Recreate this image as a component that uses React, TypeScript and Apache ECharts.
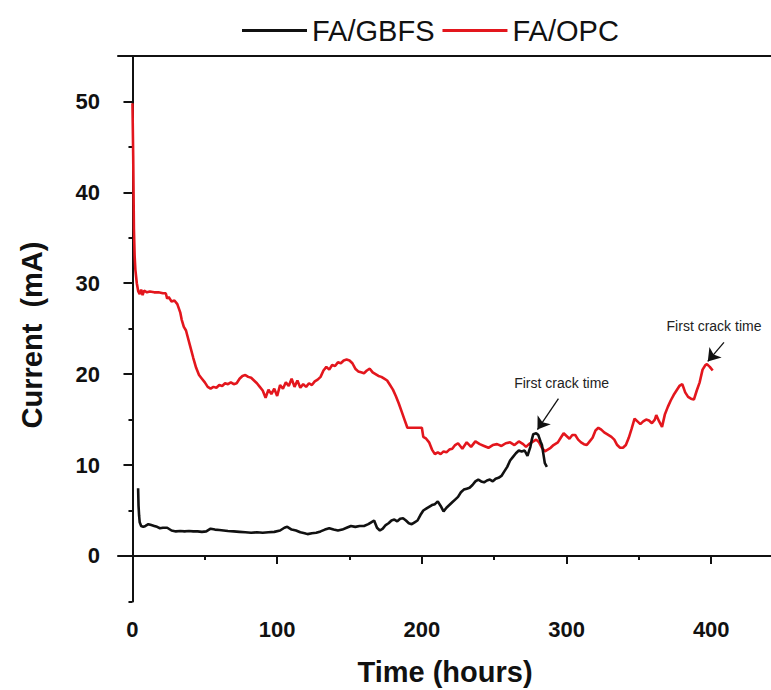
import React, { useEffect, useRef } from "react";
import * as echarts from "echarts";

// ---- Data ----
const opcTime = [0, 0.5, 1, 1.5, 2, 3, 4, 5, 6, 7, 8, 10, 12, 15, 18, 21, 23, 24, 25, 27, 29, 31, 33, 34, 35.5, 37, 38, 40, 42, 44, 46, 48, 50, 52, 54, 56, 58, 60, 62, 64, 66, 68, 70, 72, 74, 76, 78, 80, 82, 84, 86, 88, 90, 92, 94, 96, 98, 100, 102, 104, 106, 108, 110, 112, 114, 116, 118, 120, 122, 124, 126, 128, 130, 132, 134, 136, 138, 140, 142, 144, 146, 148, 150, 152, 154, 156, 158, 160, 162, 164, 166, 168, 170, 172, 174, 176, 178, 180, 182, 184, 186, 188, 190, 200, 201, 203, 205, 207, 209, 211, 213, 215, 217, 219, 221, 223, 225, 228, 231, 234, 237, 240, 243, 246, 249, 252, 255, 258, 261, 264, 267, 270, 272, 274, 277, 279, 281, 283, 285, 287, 289, 291, 294, 296, 298, 300, 302, 304, 306, 308, 310, 312, 314, 316, 318, 320, 322, 324, 326, 328, 331, 333, 335, 337, 339, 341, 343, 345, 347, 349, 351, 353, 355, 357, 359, 361, 362, 364, 366, 368, 370, 372, 374, 376, 378, 380, 382, 384, 386, 388, 390, 392, 394, 396, 397, 399, 401];
const opcCurrent = [49.8, 44, 36, 33, 31.5, 30, 29.1, 28.8, 29.3, 28.7, 29.2, 29.0, 29.1, 29.0, 29.0, 28.9, 28.9, 28.3, 28.5, 28.0, 28.1, 27.7, 26.8, 26.0, 25.2, 24.8, 24.2, 23.0, 21.8, 20.7, 19.9, 19.5, 19.1, 18.6, 18.4, 18.6, 18.5, 18.8, 18.7, 19.0, 18.9, 19.1, 18.9, 19.0, 19.5, 19.8, 19.9, 19.7, 19.6, 19.3, 19.0, 18.6, 18.2, 17.4, 18.3, 17.8, 18.4, 17.6, 18.8, 18.4, 19.1, 18.7, 19.5, 18.6, 19.3, 18.5, 18.9, 18.6, 19.0, 18.8, 19.2, 19.4, 19.7, 20.4, 20.8, 20.5, 21.0, 20.9, 21.3, 21.2, 21.5, 21.6, 21.5, 21.2, 20.6, 20.3, 20.2, 20.1, 20.4, 20.6, 20.2, 20.0, 19.8, 19.7, 19.5, 19.3, 18.8, 18.3, 17.6, 16.8, 15.9, 15.0, 14.1, 14.1, 13.1, 12.9, 12.5, 11.7, 11.2, 11.4, 11.2, 11.5, 11.4, 11.7, 11.8, 12.2, 12.4, 11.8, 12.5, 12.0, 12.6, 12.3, 12.1, 11.9, 12.2, 12.3, 12.1, 12.4, 12.5, 12.2, 12.6, 12.3, 12.0, 12.3, 12.6, 12.8, 12.5, 11.9, 11.5, 11.7, 11.9, 12.2, 12.5, 13.0, 13.5, 13.2, 12.9, 13.3, 13.3, 12.8, 12.5, 12.3, 12.2, 12.6, 13.0, 13.8, 14.1, 13.9, 13.6, 13.4, 13.1, 12.8, 12.2, 11.9, 11.9, 12.2, 13.0, 14.0, 15.1, 14.8, 14.5, 14.8, 15.0, 14.9, 14.6, 15.0, 15.5, 14.8, 14.2, 15.6, 16.4, 17.1, 17.7, 18.2, 18.7, 18.9, 18.0, 17.5, 17.3, 17.2, 18.2, 19.1, 20.5, 21.0, 21.1, 20.8, 20.4];

const gbfsTime = [3.9, 4.2, 4.6, 5, 6, 7.5, 9, 11, 13, 15, 17, 19, 21, 24, 27, 30, 33, 36, 39, 42, 45, 48, 51, 54, 57, 60, 63, 66, 70, 74, 78, 82, 86, 90, 94, 98, 102, 105, 107, 110, 113, 116, 119, 121, 124, 127, 130, 133, 136, 139, 142, 145, 148, 151, 154, 157, 160, 163, 165, 167, 169, 171, 173, 175, 177, 179, 181, 183, 185, 187, 189, 191, 193, 195, 197, 199, 201, 203, 205, 207, 209, 211, 213, 215, 217, 219, 221, 223, 225, 227, 229, 231, 233, 235, 237, 239, 241, 243, 245, 247, 249, 251, 253, 255, 257, 259, 261, 263, 265, 267, 269, 271, 273, 275, 276, 277, 279, 280.5, 282, 283, 284, 285, 286.4];
const gbfsCurrent = [7.45, 5.5, 4.4, 3.7, 3.3, 3.2, 3.3, 3.5, 3.4, 3.3, 3.2, 3.05, 3.1, 3.1, 2.8, 2.7, 2.75, 2.7, 2.75, 2.7, 2.7, 2.65, 2.7, 3.0, 2.9, 2.85, 2.8, 2.75, 2.7, 2.65, 2.6, 2.55, 2.6, 2.55, 2.6, 2.65, 2.8, 3.1, 3.2, 2.9, 2.8, 2.6, 2.5, 2.4, 2.5, 2.55, 2.7, 2.9, 3.05, 2.9, 2.8, 2.9, 3.1, 3.3, 3.2, 3.3, 3.3, 3.5, 3.7, 3.9, 3.1, 2.8, 3.0, 3.4, 3.6, 3.9, 4.0, 3.8, 4.1, 4.15, 3.9, 3.6, 3.5, 3.7, 3.9, 4.5, 5.0, 5.2, 5.4, 5.6, 5.7, 6.0, 5.5, 4.9, 5.3, 5.6, 5.9, 6.2, 6.5, 7.0, 7.3, 7.4, 7.5, 7.8, 8.2, 8.4, 8.2, 8.1, 8.3, 8.4, 8.2, 8.5, 8.6, 8.8, 9.3, 9.8, 10.5, 10.9, 11.3, 11.6, 11.5, 11.6, 11.0, 12.0, 12.8, 13.4, 13.5, 13.3, 12.6, 12.2, 11.2, 10.2, 9.8];

const seriesNames = ["FA/GBFS", "FA/OPC"];
const xMajorTicks = [0, 100, 200, 300, 400];
const xMinorTicks = [50, 150, 250, 350];
const yMajorTicks = [0, 10, 20, 30, 40, 50];
const yMinorTicks = [-5, 5, 15, 25, 35, 45, 55];

const crackLabel = "First crack time";
// [arrowStartTime, arrowStartCurrent, arrowTipTime, arrowTipCurrent, labelTime, labelCurrent]
const gbfsCrack = [294.4, 17.3, 279.9, 13.9, 296.6, 19.05];
const opcCrack = [408.8, 23.5, 397.6, 21.4, 401.9, 25.25];

const FONT = "'Liberation Sans', Arial, Helvetica, sans-serif";

function zip(t: number[], v: number[]) {
  return t.map((x, i) => [x, v[i]]);
}

function crackMarks(c: number[]) {
  return {
    markLine: {
      silent: true,
      symbol: ["none", "arrow"],
      symbolSize: 12,
      label: { show: false },
      lineStyle: { color: "#111", width: 1.3, type: "solid" },
      itemStyle: { color: "#111" },
      emphasis: { disabled: true },
      data: [[{ coord: [c[0], c[1]] }, { coord: [c[2], c[3]] }]],
    },
    markPoint: {
      silent: true,
      symbol: "circle",
      symbolSize: 0,
      data: [
        {
          coord: [c[4], c[5]],
          label: {
            show: true,
            position: "inside",
            formatter: crackLabel,
            color: "#222",
            fontSize: 14,
            fontFamily: FONT,
          },
        },
      ],
    },
  };
}

export default function App() {
  const ref = useRef<HTMLDivElement>(null);
  useEffect(() => {
    if (!ref.current) return;
    const chart = echarts.init(ref.current, null, { renderer: "svg" });
    const axisLine = { show: true, lineStyle: { color: "#111", width: 2 } };
    const tickStyle = { color: "#111", width: 2 };
    const xCommon = { type: "value", min: -10, max: 441.3, splitLine: { show: false }, gridIndex: 0 };
    const yCommon = { type: "value", min: -5, max: 55, splitLine: { show: false }, gridIndex: 0 };
    chart.setOption({
      animation: false,
      backgroundColor: "#fff",
      grid: { left: 118, right: 0, top: 56, bottom: 88.6, containLabel: false },
      legend: {
        data: seriesNames,
        orient: "horizontal",
        left: 237,
        top: 11,
        icon: "rect",
        itemWidth: 65,
        itemHeight: 3,
        itemGap: 8,
        textStyle: { fontSize: 29, color: "#111", fontFamily: FONT },
      },
      xAxis: [
        {
          ...xCommon,
          position: "bottom",
          axisLine,
          axisTick: { show: true, customValues: xMajorTicks, length: 8, lineStyle: tickStyle },
          axisLabel: {
            show: true,
            customValues: xMajorTicks,
            margin: 17,
            fontSize: 22,
            fontWeight: "bold",
            color: "#111",
            fontFamily: FONT,
          },
        },
        {
          ...xCommon,
          position: "bottom",
          axisLine: { show: false },
          axisTick: { show: true, customValues: xMinorTicks, length: 4, lineStyle: tickStyle },
          axisLabel: { show: false },
        },
        {
          ...xCommon,
          position: "top",
          axisLine,
          axisTick: { show: false },
          axisLabel: { show: false },
        },
      ],
      yAxis: [
        {
          ...yCommon,
          position: "left",
          axisLine,
          axisTick: { show: true, customValues: yMajorTicks, length: 9, lineStyle: tickStyle },
          axisLabel: {
            show: true,
            customValues: yMajorTicks,
            margin: 18,
            fontSize: 22,
            fontWeight: "bold",
            color: "#111",
            fontFamily: FONT,
          },
        },
        {
          ...yCommon,
          position: "left",
          axisLine: { show: false },
          axisTick: { show: true, customValues: yMinorTicks, length: 4, lineStyle: tickStyle },
          axisLabel: { show: false },
        },
      ],
      graphic: [
        {
          type: "text",
          x: 445,
          y: 672,
          style: {
            text: "Time (hours)",
            font: `bold 29px ${FONT}`,
            fill: "#111",
            align: "center",
            verticalAlign: "middle",
          },
        },
        {
          type: "text",
          x: 32,
          y: 335,
          rotation: Math.PI / 2,
          style: {
            text: "Current  (mA)",
            font: `bold 29px ${FONT}`,
            fill: "#111",
            align: "center",
            verticalAlign: "middle",
          },
        },
      ],
      series: [
        {
          name: seriesNames[0],
          type: "line",
          xAxisIndex: 0,
          yAxisIndex: 0,
          z: 3,
          symbol: "none",
          showSymbol: false,
          color: "#111",
          lineStyle: { color: "#111", width: 2.6 },
          data: zip(gbfsTime, gbfsCurrent),
          ...crackMarks(gbfsCrack),
        },
        {
          name: seriesNames[1],
          type: "line",
          xAxisIndex: 0,
          yAxisIndex: 0,
          z: 2,
          symbol: "none",
          showSymbol: false,
          color: "#e3161d",
          lineStyle: { color: "#e3161d", width: 2.6 },
          data: zip(opcTime, opcCurrent),
          ...crackMarks(opcCrack),
        },
      ],
    });
    return () => chart.dispose();
  }, []);
  return (
    <div
      ref={ref}
      style={{ position: "absolute", left: 0, top: 0, width: 771, height: 690, background: "#fff" }}
    />
  );
}
